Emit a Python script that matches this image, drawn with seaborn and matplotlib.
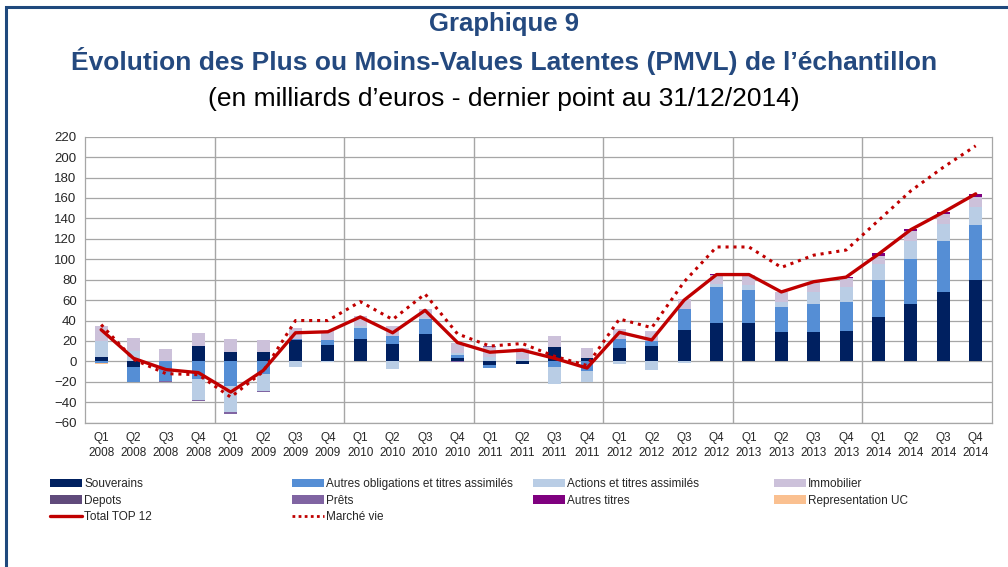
"""
Graphique 9 - PMVL de l'echantillon (stacked bars + lines)
"""

import matplotlib.pyplot as plt
import numpy as np
import seaborn as sns
from matplotlib.lines import Line2D
from matplotlib.patches import Patch, Rectangle

years = ["2008", "2009", "2010", "2011", "2012", "2013", "2014"]
quarters = ["Q1", "Q2", "Q3", "Q4"]
tick_labels = [f"{q}\n{y}" for y in years for q in quarters]

# milliards d'euros
souverains = [4.5, -5.5, 0, 15, 9.5, 9.5, 20.5, 16,
              22, 17.5, 27, 3.5, -3.5, -2.5, 14, 3.3,
              13, 15.3, 30.5, 38, 38, 29, 29, 30,
              43.5, 56.5, 68, 80]
autres_oblig = [-2, -14.5, -19, -17.3, -24, -12, 1.5, 5,
                11, 7, 14.5, 2.3, -2.6, -0.5, -5.5, -9,
                8.8, 5, 21, 35, 32, 24.5, 27.5, 28.5,
                36, 43.5, 50, 53.5]
actions = [15.5, 10, 0, -20, -26, -17, -5, -0.8,
           2, -7, 0.5, 2.8, 4.6, 2, -16.3, -10.8,
           -3, -8.8, -2, 2.6, 5, 4.3, 11, 14,
           15.5, 17.5, 16.8, 17.3]
immobilier = [14.5, 13, 12.5, 12.4, 12.4, 11.3, 11, 8.5,
              9, 9.7, 9.5, 9.4, 9.5, 11.3, 10.8, 9.4,
              9.5, 9.1, 10, 9.4, 9.5, 10, 10.5, 8.8,
              8.5, 9.7, 9.5, 9.8]
depots = [0, 0, 0, 0, 0, 0, 0, 0,
          0, 0, 0, 0, 0, 0, 0, 0,
          0, 0, 0, 0, 0, 0, 0, 0,
          0, 0, 0, 0]
prets = [0, 0, -0.7, -1, -1, -0.5, 0, 0,
         0, 0, 0, -0.5, 0.5, 0, 0, 0.5,
         0.5, 0, 0, 0, 0, 0, 0, 0,
         0, 0, 0, 0]
autres_titres = [0, 0, 0, 0, 0, 0, 0, 0,
                 0, 0, 0, 0, 0, 0, 0, 0,
                 0, 0, 0, 0.5, 0.5, 0, 0, 1,
                 2.2, 2, 2, 3]
repr_uc = [-0.8, 0, 0, 0, 0, 0, 0, 0,
           0, 0, 0, 0, 0, 0, 0, 0,
           0, 0, 0, 0, 0, 0, 0, 0,
           0, 0, 0, 0]

total_top12 = [31, 3, -8, -11, -30, -9, 28, 29,
               43.5, 28, 50, 18.5, 9, 11, 3, -6.5,
               28.5, 21, 60, 85, 85, 68, 78, 82.5,
               105, 129, 146, 164]
marche_vie = [36, 2, -12, -13, -35, -10, 40, 40,
              58.5, 41, 66, 27, 15, 17.5, 5, -4,
              41.5, 33, 78, 112, 112, 92, 104, 109,
              138, 167, 190, 211]

names = ["Souverains", "Autres obligations et titres assimilés",
         "Actions et titres assimilés", "Immobilier", "Depots", "Prêts",
         "Autres titres", "Representation UC"]
series = [souverains, autres_oblig, actions, immobilier, depots, prets,
          autres_titres, repr_uc]
colors = ["#002060", "#558ED5", "#B9CDE5", "#CCC1DA", "#604A7B", "#8064A2",
          "#7F007F", "#FAC090"]
red = "#C00000"
title_blue = "#24497F"
grid_col = "#A6A6A6"

sns.set_theme(style="white")
plt.rcParams["font.family"] = ["Liberation Sans Narrow", "Liberation Sans", "DejaVu Sans"]

fig = plt.figure(figsize=(10.08, 5.67), dpi=100)
ax = fig.add_axes([0.0843, 0.2545, 0.8997, 0.5045])

x = np.arange(len(total_top12))

# stacked bars: positives and negatives stack separately (Excel style);
# draw cumulative sums from the outermost layer inwards
arr = np.array(series, dtype=float)
pos_cum = np.cumsum(np.clip(arr, 0, None), axis=0)
neg_cum = np.cumsum(np.clip(arr, None, 0), axis=0)
for k in reversed(range(len(series))):
    for cum in (pos_cum[k], neg_cum[k]):
        sns.barplot(x=x, y=cum, color=colors[k], width=0.4, saturation=1,
                    linewidth=0, errorbar=None, ax=ax, zorder=2)

sns.lineplot(x=x, y=marche_vie, color=red, linewidth=2.2,
             linestyle=(0, (1, 1.6)), ax=ax, zorder=4)
sns.lineplot(x=x, y=total_top12, color=red, linewidth=2.4, ax=ax, zorder=5)

ax.set_xlim(-0.5, len(x) - 0.5)
ax.set_ylim(-60, 220)
ax.set_yticks(range(-60, 221, 20))
ax.set_xticks(x)
ax.set_xticklabels(tick_labels, fontsize=8.5, linespacing=1.3)
ax.tick_params(axis="y", labelsize=9.5, length=0, pad=6)
ax.tick_params(axis="x", length=0, pad=7)
ax.set_xlabel("")
ax.set_ylabel("")

for yv in range(-60, 221, 20):
    ax.axhline(yv, color=grid_col, lw=0.9, zorder=1)
for xv in np.arange(3.5, len(x) - 1, 4):
    ax.axvline(xv, color=grid_col, lw=1.0, zorder=1)
for sp in ax.spines.values():
    sp.set_color(grid_col)
    sp.set_linewidth(0.9)
ax.spines["top"].set_visible(False)

# titles
title_font = ["Liberation Sans", "DejaVu Sans"]
fig.text(0.5, 0.957, "Graphique 9", ha="center", va="center", fontsize=18.5,
         fontweight="bold", color=title_blue, family=title_font)
fig.text(0.5, 0.892, "Évolution des Plus ou Moins-Values Latentes (PMVL) de l’échantillon",
         ha="center", va="center", fontsize=19, fontweight="bold", color=title_blue,
         family=title_font)
fig.text(0.5, 0.826, "(en milliards d’euros - dernier point au 31/12/2014)",
         ha="center", va="center", fontsize=19, color="black", family=title_font)

# legend: four fixed columns like the original
handles = {n: Patch(facecolor=c, edgecolor="none") for n, c in zip(names, colors)}
handles["Total TOP 12"] = Line2D([], [], color=red, lw=2.4)
handles["Marché vie"] = Line2D([], [], color=red, lw=2, linestyle=(0, (1, 1.2)))
columns = [
    (50, ["Souverains", "Depots", "Total TOP 12"]),
    (292, ["Autres obligations et titres assimilés", "Prêts", "Marché vie"]),
    (533, ["Actions et titres assimilés", "Autres titres"]),
    (774, ["Immobilier", "Representation UC"]),
]
for px, labels in columns:
    fig.legend([handles[l] for l in labels], labels, loc="upper left",
               bbox_to_anchor=(px / 1008, 1 - 478 / 567), frameon=False,
               fontsize=8.5, borderpad=0, borderaxespad=0, handlelength=2.7,
               handleheight=0.7, handletextpad=0.2, labelspacing=0.39)

# outer frame
fig.add_artist(Rectangle((6 / 1008, -0.05), 1.1, 1.05 - 7 / 567,
                         transform=fig.transFigure, fill=False,
                         edgecolor="#1F497D", lw=2.2))

fig.savefig("out.png", dpi=100)
